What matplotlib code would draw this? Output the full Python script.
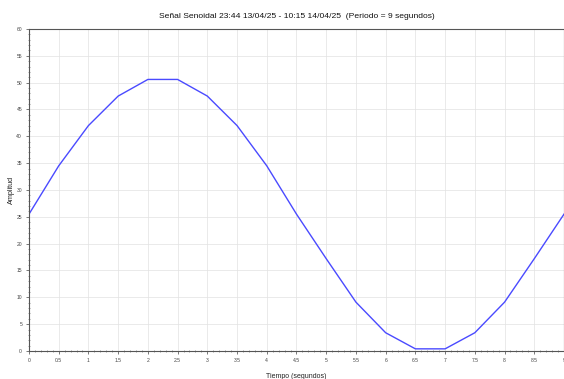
import matplotlib.pyplot as plt
from matplotlib.ticker import MultipleLocator, AutoMinorLocator

plt.rcParams['font.family'] = ['Liberation Sans', 'DejaVu Sans']

tiempo = [0, 0.5, 1, 1.5, 2, 2.5, 3, 3.5, 4, 4.5, 5, 5.5, 6, 6.5, 7, 7.5, 8, 8.5, 9]
amplitud = [25.5, 34.5, 42.0, 47.5, 50.6, 50.6, 47.5, 42.0, 34.5, 25.5,
            17.2, 9.1, 3.4, 0.4, 0.4, 3.4, 9.1, 17.2, 25.5]

fig = plt.figure(figsize=(5.64, 3.79), dpi=100)
ax = fig.add_axes([0.0514, 0.0739, 0.9486, 0.8496])

ax.plot(tiempo, amplitud, color='#4a4aff', linewidth=1.0)

ax.set_xlim(0, 9)
ax.set_ylim(0, 60)
ax.xaxis.set_major_locator(MultipleLocator(0.5))
ax.yaxis.set_major_locator(MultipleLocator(5))
ax.xaxis.set_minor_locator(AutoMinorLocator(5))
ax.yaxis.set_minor_locator(AutoMinorLocator(5))
ax.xaxis.set_major_formatter(lambda v, p: f'{v:g}')

ax.grid(True, which='major', color='#e2e2e2', linewidth=0.5)
ax.tick_params(which='major', labelsize=3.6, length=2, width=0.5, pad=3, colors='#444444')
ax.tick_params(which='minor', length=1.2, width=0.4, direction='inout', colors='#555555')
for s in ax.spines.values():
    s.set_linewidth(0.8)
    s.set_color('#555555')

ax.set_title('Señal Senoidal 23:44 13/04/25 - 10:15 14/04/25  (Periodo = 9 segundos)',
             fontsize=6.1, pad=8, color='#111111')
ax.set_xlabel('Tiempo (segundos)', fontsize=5.0, labelpad=7, color='#222222')
ax.set_ylabel('Amplitud', fontsize=5.2, labelpad=1, color='#222222')

fig.savefig('out.png', dpi=100)
